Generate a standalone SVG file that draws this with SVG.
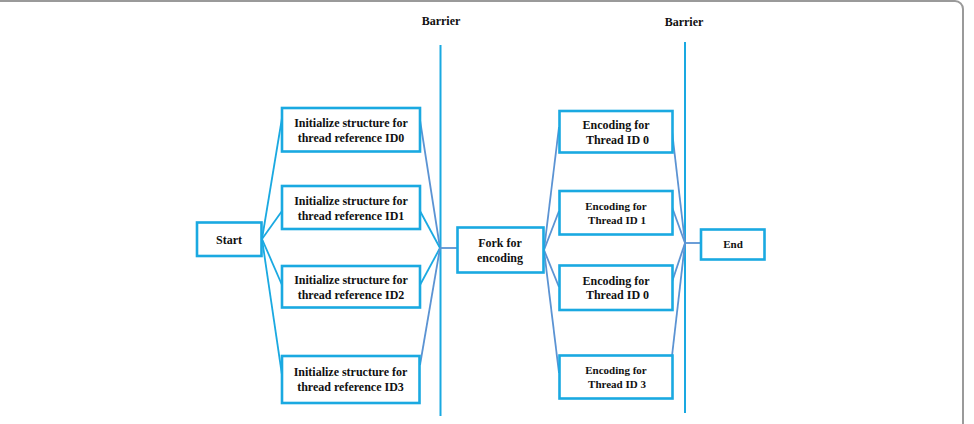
<svg xmlns="http://www.w3.org/2000/svg" width="974" height="424" viewBox="0 0 974 424">
<style>
.frame{fill:#fff;stroke:#9a9a9a;stroke-width:2}
.box{fill:#fff;stroke:#1aa9e1;stroke-width:2.6}
.bar{stroke:#1aa9e1;stroke-width:2;fill:none}
.lc{stroke:#1aa9e1;stroke-width:1.8;fill:none}
.dc{stroke:#5b93d3;stroke-width:1.8;fill:none}
text{font-family:"Liberation Serif","Times New Roman",serif;font-weight:bold;fill:#111;text-anchor:middle;font-size:12px}
.s{font-size:11px}
</style>
<rect class="frame" x="-10" y="1" width="973" height="440" rx="8"/>
<g id="barrier1"><line class="bar" x1="440.5" y1="45" x2="440.5" y2="416"/><text x="441" y="25">Barrier</text></g>
<g id="barrier2"><line class="bar" x1="685" y1="42" x2="685" y2="413"/><text x="684" y="26">Barrier</text></g>
<g id="connectors">
<line class="lc" x1="262" y1="239" x2="282" y2="118"/>
<line class="lc" x1="262" y1="239" x2="282" y2="211"/>
<line class="lc" x1="262" y1="239" x2="282" y2="285"/>
<line class="lc" x1="262" y1="239" x2="282" y2="375"/>
<line class="dc" x1="420" y1="120" x2="440" y2="248"/>
<line class="lc" x1="420" y1="211" x2="440" y2="248"/>
<line class="lc" x1="420" y1="285" x2="440" y2="248"/>
<line class="dc" x1="420" y1="365" x2="440" y2="248"/>
<line class="dc" x1="440" y1="248" x2="457" y2="248"/>
<line class="dc" x1="544" y1="250" x2="559" y2="127"/>
<line class="dc" x1="544" y1="250" x2="559" y2="211"/>
<line class="dc" x1="544" y1="250" x2="559" y2="287"/>
<line class="dc" x1="544" y1="250" x2="559" y2="373"/>
<line class="dc" x1="672" y1="131" x2="685" y2="243"/>
<line class="dc" x1="672" y1="207" x2="685" y2="243"/>
<line class="dc" x1="672" y1="282" x2="685" y2="243"/>
<line class="dc" x1="672" y1="356" x2="685" y2="243"/>
<line class="dc" x1="685" y1="243" x2="701" y2="243"/>
</g>
<g id="start"><rect class="box" x="197" y="222.5" width="64.5" height="33.5"/><text x="229" y="244">Start</text></g>
<g id="init0"><rect class="box" x="282" y="108" width="138" height="43.5"/><text x="351" y="126.5">Initialize structure for</text><text x="351" y="141.5">thread reference ID0</text></g>
<g id="init1"><rect class="box" x="282" y="186" width="138" height="43"/><text x="351" y="204.5">Initialize structure for</text><text x="351" y="219.5">thread reference ID1</text></g>
<g id="init2"><rect class="box" x="282" y="266" width="138" height="41.5"/><text x="351" y="284">Initialize structure for</text><text x="351" y="299">thread reference ID2</text></g>
<g id="init3"><rect class="box" x="282" y="356" width="137.5" height="47"/><text x="350.5" y="376">Initialize structure for</text><text x="350.5" y="391">thread reference ID3</text></g>
<g id="fork"><rect class="box" x="457.5" y="227.5" width="86" height="45"/><text x="500" y="246.5">Fork for</text><text x="500" y="261.5">encoding</text></g>
<g id="enc0"><rect class="box" x="559.5" y="111" width="113" height="41.5"/><text x="616" y="129">Encoding for</text><text x="617.5" y="143.5">Thread ID 0</text></g>
<g id="enc1"><rect class="box" x="559.5" y="191" width="113" height="43.5"/><text class="s" x="616" y="210">Encoding for</text><text class="s" x="617" y="223.5">Thread ID 1</text></g>
<g id="enc0b"><rect class="box" x="559.5" y="265.5" width="113" height="44.5"/><text x="616" y="284.5">Encoding for</text><text x="617.5" y="299">Thread ID 0</text></g>
<g id="enc3"><rect class="box" x="559.5" y="355.5" width="113" height="43"/><text class="s" x="616" y="373.5">Encoding for</text><text class="s" x="617" y="387.5">Thread ID 3</text></g>
<g id="end"><rect class="box" x="701" y="229.5" width="63.5" height="30"/><text class="s" x="733" y="247.5">End</text></g>
</svg>
